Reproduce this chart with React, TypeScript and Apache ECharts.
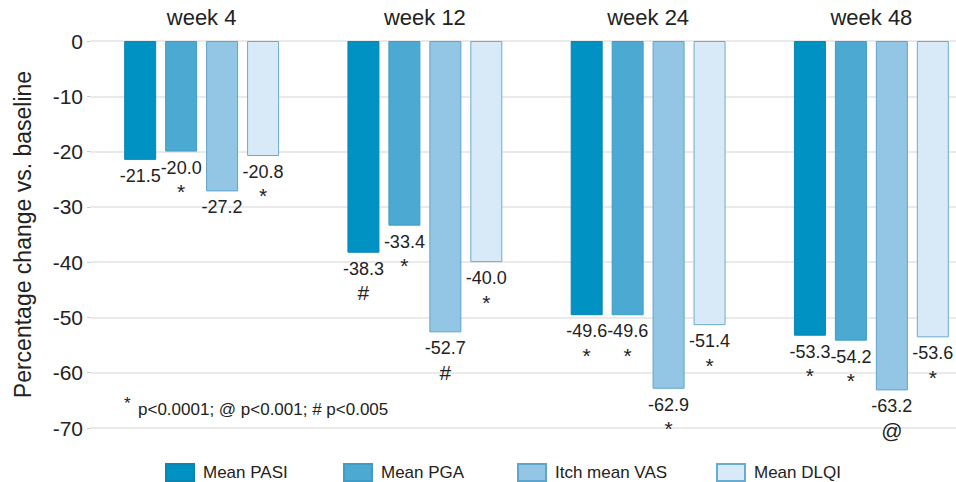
import React, { useEffect, useRef } from "react";
import * as echarts from "echarts";

const weeks = ["week 4", "week 12", "week 24", "week 48"];
const seriesNames = ["Mean PASI", "Mean PGA", "Itch mean VAS", "Mean DLQI"];
const pasi = [-21.5, -38.3, -49.6, -53.3];
const pga = [-20.0, -33.4, -49.6, -54.2];
const vas = [-27.2, -52.7, -62.9, -63.2];
const dlqi = [-20.8, -40.0, -51.4, -53.6];
const pasiSig = ["", "#", "*", "*"];
const pgaSig = ["*", "*", "*", "*"];
const vasSig = ["", "#", "*", "@"];
const dlqiSig = ["*", "*", "*", "*"];
const yTicks = [0, -10, -20, -30, -40, -50, -60, -70];

const colors = ["#0092c3", "#4ba9d2", "#93c5e4", "#d8eaf7"];
const borders = ["#0a86b3", "#3f9cc6", "#5fa4cc", "#6aaccf"];
const legendLeft = [165, 343, 517, 716];

const FONT = "Liberation Sans, Arial, sans-serif";

export default function App() {
  const ref = useRef<HTMLDivElement>(null);
  useEffect(() => {
    if (!ref.current) return;
    const chart = echarts.init(ref.current, null, { renderer: "svg" });
    const all = [pasi, pga, vas, dlqi];
    const sigs = [pasiSig, pgaSig, vasSig, dlqiSig];
    const series = all.map((vals, si) => ({
      name: seriesNames[si],
      type: "bar",
      barWidth: 32,
      barGap: "28%",
      itemStyle: { color: colors[si], borderColor: borders[si], borderWidth: 1 },
      data: vals,
      label: {
        show: true,
        position: "bottom",
        distance: 5,
        fontFamily: FONT,
        formatter: (p: any) => {
          const s = sigs[si][p.dataIndex];
          const v = Number(p.value).toFixed(1);
          return s ? `{v|${v}}\n{s|${s}}` : `{v|${v}}`;
        },
        rich: {
          v: { fontSize: 18, lineHeight: 22, color: "#222", fontFamily: FONT },
          s: { fontSize: 21, lineHeight: 26, color: "#222", fontFamily: FONT },
        },
      },
    }));
    chart.setOption({
      animation: false,
      textStyle: { fontFamily: FONT },
      grid: { left: 90, right: 0, top: 41, bottom: 54 },
      xAxis: {
        type: "category",
        data: weeks,
        position: "top",
        axisLine: { show: false },
        axisTick: { show: false },
        axisLabel: { fontSize: 22, color: "#222", margin: 13, fontFamily: FONT },
      },
      yAxis: {
        type: "value",
        min: -70,
        max: 0,
        interval: 10,
        name: "Percentage change vs. baseline",
        nameLocation: "middle",
        nameGap: 56,
        nameTextStyle: { fontSize: 23, color: "#222", fontFamily: FONT },
        axisLine: { show: false },
        axisTick: { show: true, length: 3, lineStyle: { color: "#ccc" } },
        axisLabel: {
          fontSize: 21,
          color: "#222",
          margin: 7,
          fontFamily: FONT,
          formatter: (v: number) => (yTicks.includes(v) ? String(v) : ""),
        },
        splitLine: { lineStyle: { color: "#e3e3e3", width: 1.5 } },
      },
      legend: seriesNames.map((n, i) => ({
        data: [n],
        left: legendLeft[i],
        top: 463,
        icon: "rect",
        itemWidth: 28,
        itemHeight: 17,
        padding: 0,
        textStyle: { fontSize: 17, color: "#222", fontFamily: FONT, padding: [0, 0, 0, 4] },
      })),
      graphic: [
        {
          type: "text",
          left: 124,
          top: 395,
          style: { text: "*", fontSize: 17, fill: "#222", fontFamily: FONT },
        },
        {
          type: "text",
          left: 138,
          top: 401,
          style: { text: "p<0.0001; @ p<0.001; # p<0.005", fontSize: 17, fill: "#222", fontFamily: FONT },
        },
      ],
      series,
    });
    return () => chart.dispose();
  }, []);
  return (
    <div
      style={{
        position: "fixed",
        left: 0,
        top: 0,
        width: 956,
        height: 482,
        overflow: "hidden",
        background: "#fff",
      }}
    >
      <div ref={ref} style={{ width: 983, height: 482 }} />
    </div>
  );
}
